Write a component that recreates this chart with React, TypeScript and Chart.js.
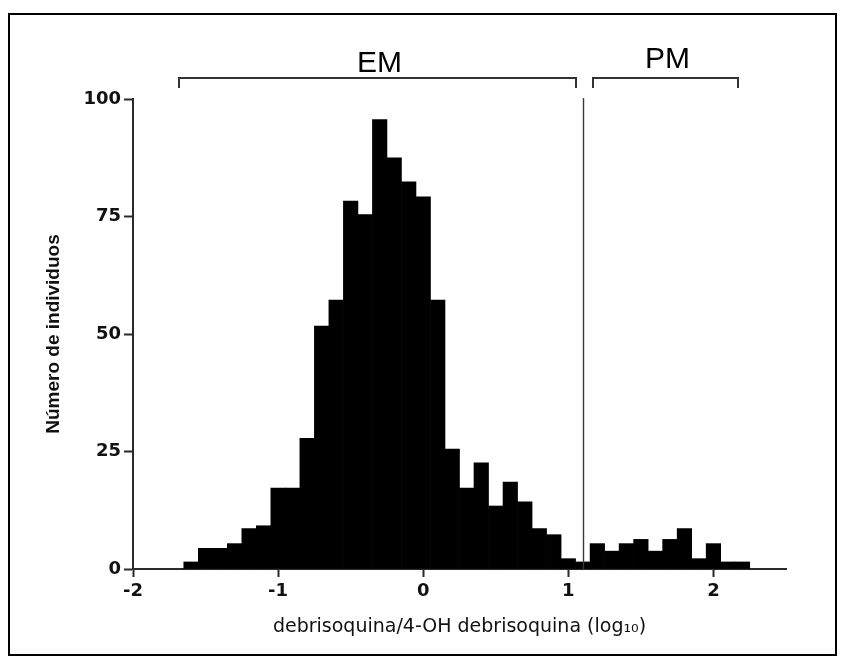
import React, { useEffect, useRef } from "react";
import { Chart, registerables } from "chart.js";

Chart.register(...registerables);

// Histogram bins (centre of each 0.1-wide bin, log10 scale)
const binCenters = [
  -1.6, -1.5, -1.4, -1.3, -1.2, -1.1, -1.0, -0.9, -0.8, -0.7,
  -0.6, -0.5, -0.4, -0.3, -0.2, -0.1, 0.0, 0.1, 0.2, 0.3,
  0.4, 0.5, 0.6, 0.7, 0.8, 0.9, 1.0, 1.1, 1.2, 1.3,
  1.4, 1.5, 1.6, 1.7, 1.8, 1.9, 2.0, 2.1, 2.2,
];
// Número de individuos per bin
const counts = [
  1.5, 4.4, 4.4, 5.4, 8.6, 9.2, 17.2, 17.2, 27.8, 51.7,
  57.2, 78.3, 75.4, 95.6, 87.5, 82.4, 79.2, 57.2, 25.5, 17.2,
  22.6, 13.4, 18.5, 14.3, 8.6, 7.3, 2.2, 1.5, 5.4, 3.8,
  5.4, 6.3, 3.8, 6.3, 8.6, 2.2, 5.4, 1.5, 1.5,
];
const xTicks = [-2, -1, 0, 1, 2];
const yTicks = [0, 25, 50, 75, 100];
const groupLabels = ["EM", "PM"];
const groupStarts = [-1.68, 1.17];
const groupEnds = [1.05, 2.17];
const cutoff = [1.1];
const xTitle = "debrisoquina/4-OH debrisoquina (log\u2081\u2080)";
const yTitle = "Número de individuos";

const annotPlugin = {
  id: "annot",
  afterDatasetsDraw(chart: any) {
    const { ctx, chartArea, scales } = chart;
    const xs = scales.x;
    ctx.save();
    // cutoff line
    const cx = Math.round(xs.getPixelForValue(cutoff[0])) + 0.5;
    ctx.strokeStyle = "#3a3a3a";
    ctx.lineWidth = 1.4;
    ctx.beginPath();
    ctx.moveTo(cx, chartArea.top - 1);
    ctx.lineTo(cx, chartArea.bottom);
    ctx.stroke();
    // brackets
    const by = chartArea.top - 21;
    const lift = [6, 10];
    groupLabels.forEach((lab, i) => {
      const x0 = Math.round(xs.getPixelForValue(groupStarts[i]));
      const x1 = Math.round(xs.getPixelForValue(groupEnds[i]));
      ctx.strokeStyle = "#333";
      ctx.lineWidth = 2;
      ctx.beginPath();
      ctx.moveTo(x0, by + 10);
      ctx.lineTo(x0, by);
      ctx.lineTo(x1, by);
      ctx.lineTo(x1, by + 10);
      ctx.stroke();
      ctx.fillStyle = "#000";
      ctx.font = '30px "Liberation Sans", Arial, sans-serif';
      ctx.textAlign = "center";
      ctx.textBaseline = "alphabetic";
      ctx.fillText(lab, (x0 + x1) / 2 + 2, by - lift[i]);
    });
    ctx.restore();
  },
};

export default function App() {
  const canvasRef = useRef<HTMLCanvasElement | null>(null);

  useEffect(() => {
    const canvas = canvasRef.current;
    if (!canvas) return;
    const tickFont = { family: '"DejaVu Sans", sans-serif', size: 18, weight: "bold" as const };
    const chart = new Chart(canvas, {
      type: "bar",
      data: {
        datasets: [
          {
            data: binCenters.map((c, i) => ({ x: c, y: counts[i] })),
            backgroundColor: "#000",
            borderWidth: 0,
            barPercentage: 1,
            categoryPercentage: 1,
          } as any,
        ],
      },
      options: {
        responsive: false,
        animation: false,
        layout: { padding: { top: 99, right: 59, bottom: 0, left: 0 } },
        plugins: {
          legend: { display: false },
          tooltip: { enabled: false },
          title: { display: false },
        },
        scales: {
          x: {
            type: "linear",
            min: -2,
            max: 2.5,
            offset: false,
            grid: {
              display: true,
              offset: false,
              drawOnChartArea: false,
              drawTicks: true,
              tickLength: 8,
              tickColor: "#2a2a2a",
              tickWidth: 2,
            },
            border: { display: true, color: "#2a2a2a", width: 2 },
            ticks: {
              font: tickFont,
              color: "#111",
              padding: 4,
              maxRotation: 0,
              autoSkip: false,
            },
            afterBuildTicks: (s: any) => {
              s.ticks = xTicks.map((v) => ({ value: v }));
            },
            afterFit: (s: any) => {
              s.height = 93;
            },
            title: {
              display: true,
              text: xTitle,
              color: "#111",
              font: { family: '"DejaVu Sans", sans-serif', size: 19 },
              padding: { top: 0, bottom: 24 },
            },
          } as any,
          y: {
            min: 0,
            max: 100,
            grid: {
              display: true,
              offset: false,
              drawOnChartArea: false,
              drawTicks: true,
              tickLength: 9,
              tickColor: "#2a2a2a",
              tickWidth: 2,
            },
            border: { display: true, color: "#2a2a2a", width: 2 },
            ticks: {
              font: tickFont,
              color: "#111",
              padding: 3,
            },
            afterBuildTicks: (s: any) => {
              s.ticks = yTicks.map((v) => ({ value: v }));
            },
            afterFit: (s: any) => {
              s.width = 133;
            },
            title: {
              display: true,
              text: yTitle,
              color: "#111",
              font: { family: '"Liberation Sans", Arial, sans-serif', size: 19, weight: "bold" },
              padding: { top: 42, bottom: 0 },
            },
          } as any,
        },
      },
      plugins: [annotPlugin],
    });
    return () => chart.destroy();
  }, []);

  return (
    <div
      style={{
        position: "fixed",
        left: 0,
        top: 0,
        width: 845,
        height: 662,
        background: "#fff",
      }}
    >
      <canvas
        ref={canvasRef}
        width={845}
        height={662}
        style={{ position: "absolute", left: 0, top: 0, width: 845, height: 662 }}
      />
      <div
        style={{
          position: "absolute",
          left: 8,
          top: 13,
          width: 829,
          height: 643,
          border: "2px solid #000",
          boxSizing: "border-box",
          pointerEvents: "none",
        }}
      />
    </div>
  );
}
